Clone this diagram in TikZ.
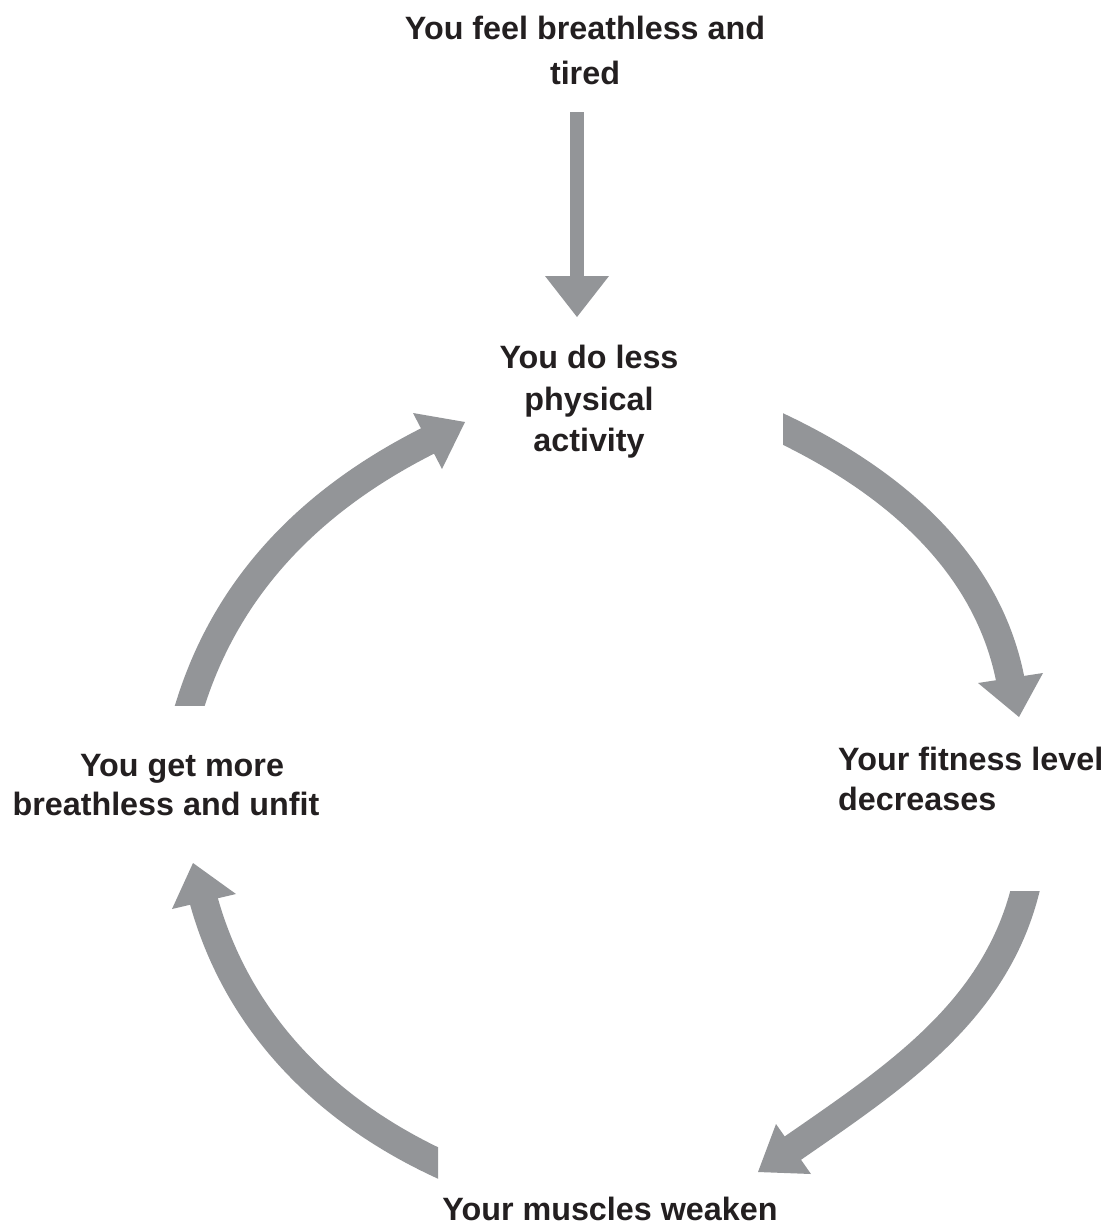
\documentclass[tikz,border=0pt]{standalone}
\usepackage{fontspec}
\setmainfont{Liberation Sans}
\definecolor{arrowgray}{RGB}{147,149,152}
\definecolor{txt}{RGB}{35,31,32}
\tikzset{
  lbl/.style={font=\bfseries\fontsize{32.3}{#1}\selectfont, text=txt, inner sep=0pt, align=center},
  shaft/.style={draw=arrowgray, line width=28.5pt, line cap=butt},
  headfill/.style={fill=arrowgray, draw=none}
}
\begin{document}
\begin{tikzpicture}[x=1pt,y=-1pt]
\useasboundingbox (0,0) rectangle (1105,1229);

% labels
\node[lbl=45, anchor=north] (feel) at (585,16) {You feel breathless and\\tired};
\node[lbl=41.5, anchor=north] (less) at (589,345) {You do less\\physical\\activity};
\node[lbl=40, anchor=north west, align=left] (fit) at (838,747) {Your fitness level\\decreases};
\node[lbl=40, anchor=north] (muscle) at (610,1197) {Your muscles weaken};
\node[lbl=39, anchor=north] (unfit) at (166,754) {\hspace*{32pt}You get more\\breathless and unfit};

% straight arrow
\coordinate (tsA) at (570,112);
\coordinate (tsB) at (584,277);
\fill[arrowgray] (tsA) rectangle (tsB);
\fill[headfill] (545,276) -- (609,276) -- (577,317) -- cycle;

% top-right arc: less -> fit
\coordinate (trP) at (765,420.4);
\coordinate (trS) at (783,429);
\coordinate (trE) at (1010,678);
\begin{scope}
  \clip (783,380) rectangle (1105,720);
  \draw[shaft] (trP) -- (trS) .. controls (891,481) and (986,560) .. (trE) -- ++(2,10);
\end{scope}
\fill[headfill] (978,683) -- (1043,673) -- (1019,717) -- cycle;

% bottom-right arc: fit -> muscle
\coordinate (brP) at (1030,871.6);
\coordinate (brS) at (1025,891);
\coordinate (brE) at (793,1148);
\begin{scope}
  \clip (700,891) rectangle (1105,1229);
  \draw[shaft] (brP) -- (brS) .. controls (994,1012) and (895.5,1077) .. (brE) -- ++(-8.2,5.7);
\end{scope}
\fill[headfill] (776,1124) -- (811,1174) -- (758,1172) -- cycle;

% bottom-left arc: muscle -> unfit
\coordinate (blP) at (456,1171.4);
\coordinate (blS) at (438,1163);
\coordinate (blE) at (204,901.5);
\begin{scope}
  \clip (150,850) rectangle (438,1229);
  \draw[shaft] (blP) -- (blS) .. controls (325,1110) and (238,1022.5) .. (blE) -- ++(-2.7,-9.6);
\end{scope}
\fill[headfill] (172,909) -- (236,894) -- (193,863) -- cycle;

% top-left arc: unfit -> less
\coordinate (tlP) at (184,724);
\coordinate (tlS) at (190,705);
\coordinate (tlE) at (427.5,441);
\begin{scope}
  \clip (150,380) rectangle (480,705);
  \draw[shaft] (tlP) -- (tlS) .. controls (228,583) and (313.5,498.6) .. (tlE) -- ++(8.9,-4.5);
\end{scope}
\fill[headfill] (413,413) -- (442,469) -- (465,422) -- cycle;
\end{tikzpicture}
\end{document}
